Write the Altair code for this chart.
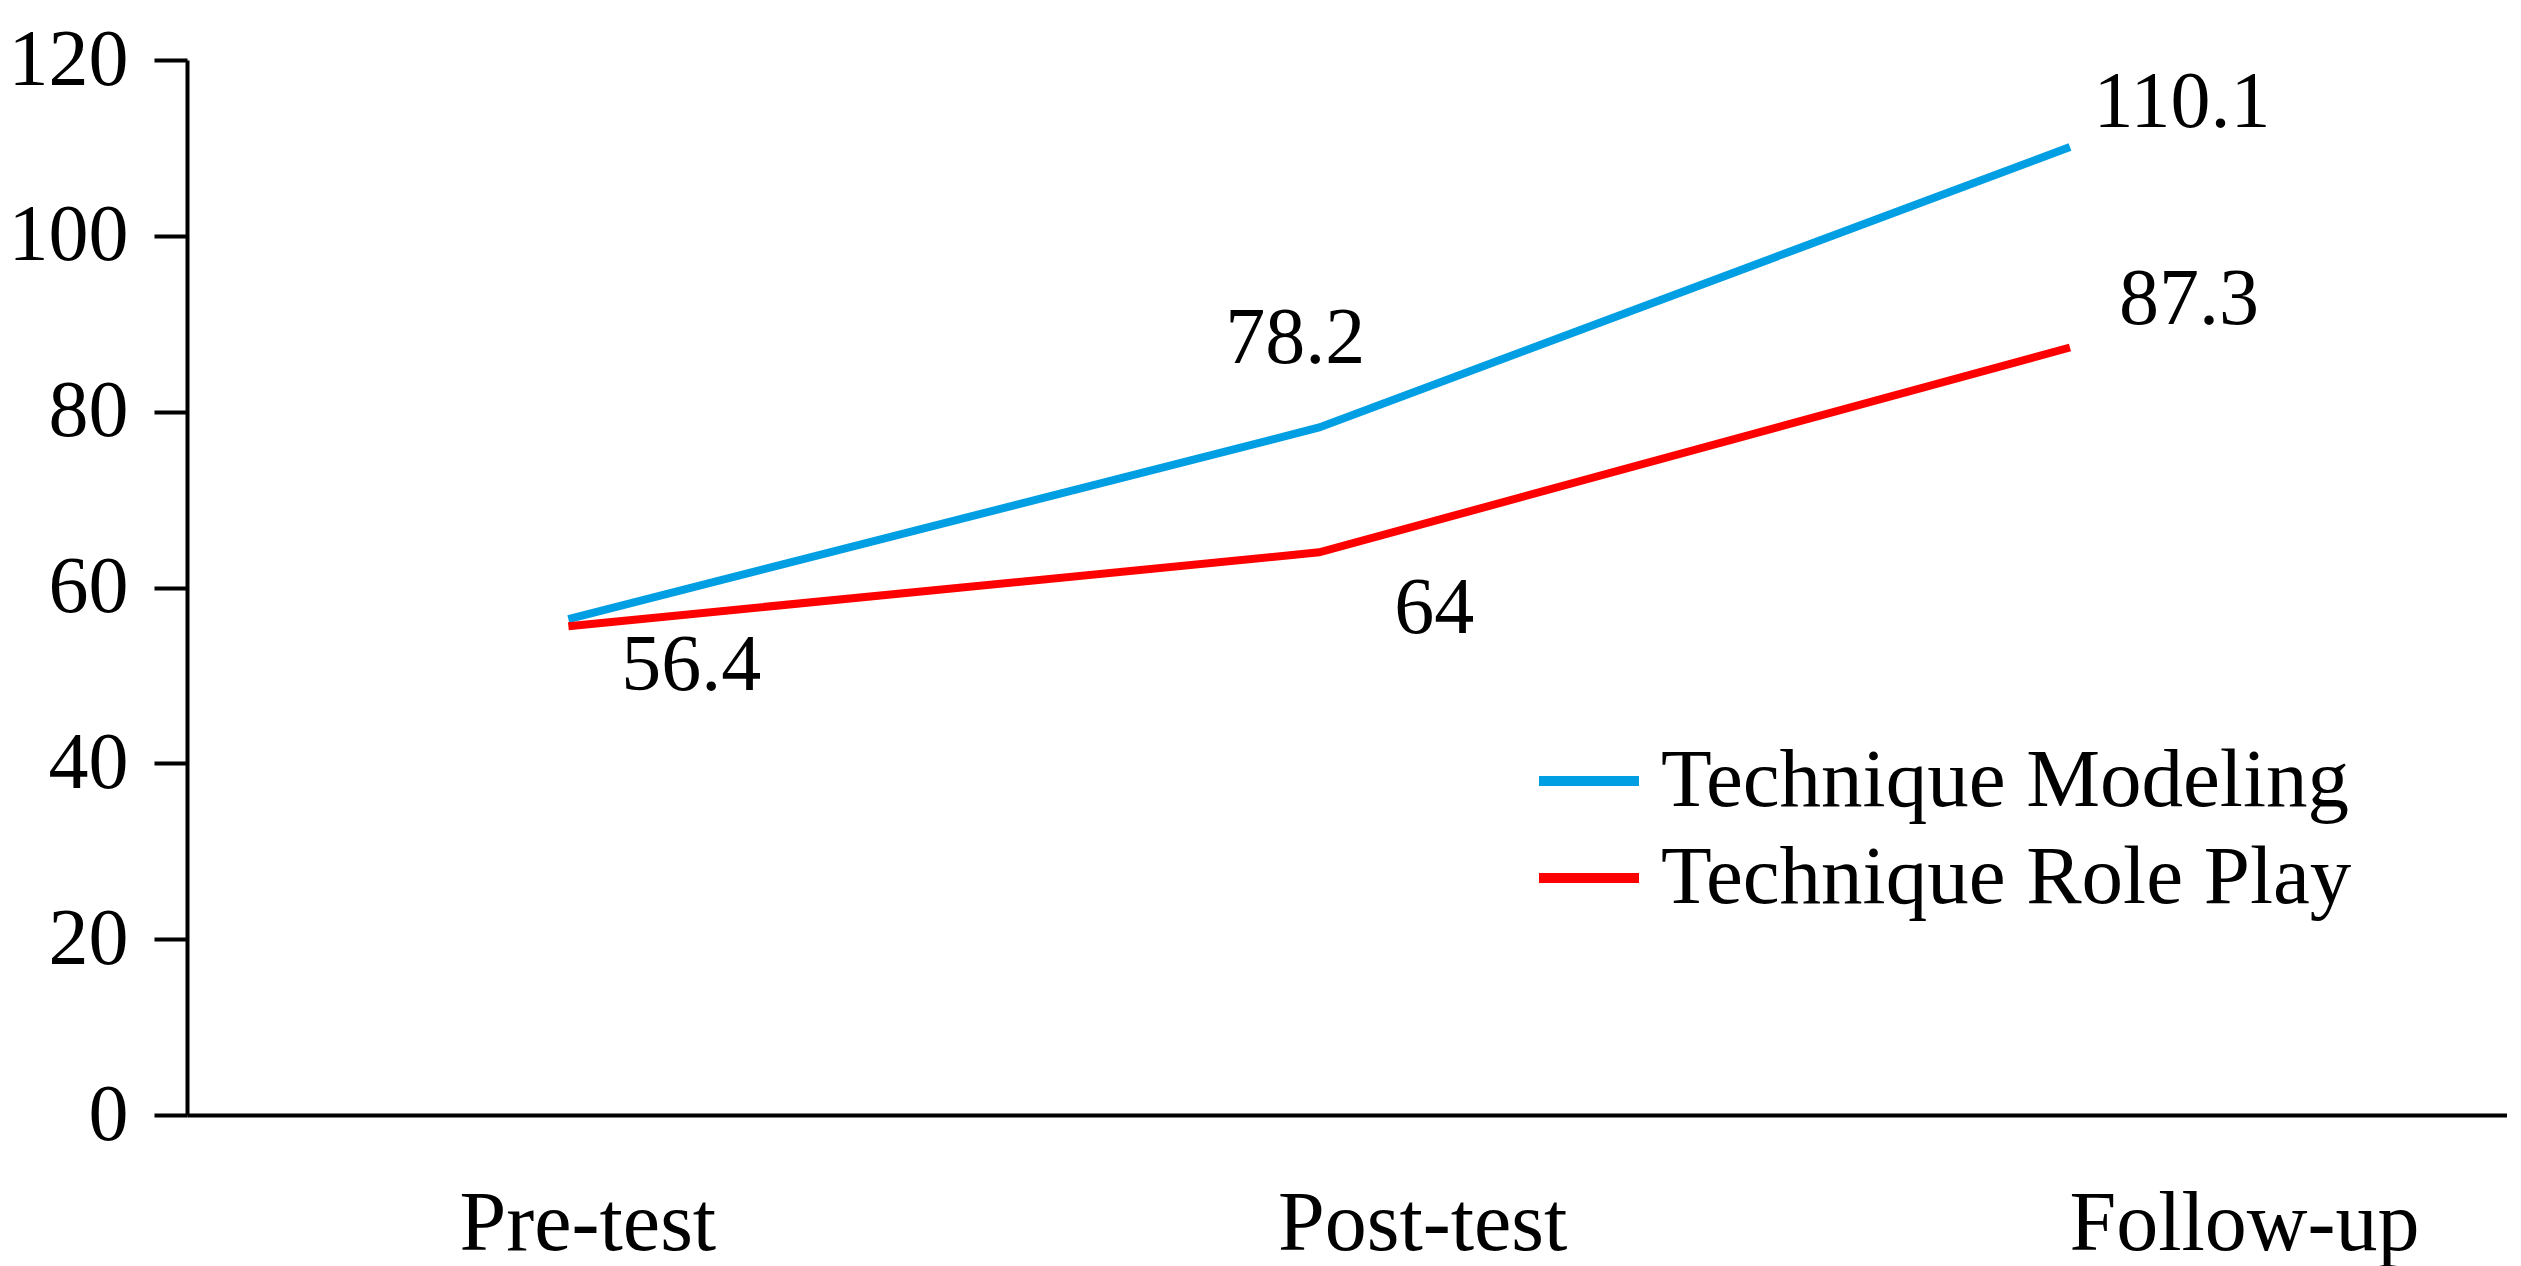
import altair as alt
import pandas as pd

categories = ["Pre-test", "Post-test", "Follow-up"]
series_names = ["Technique Modeling", "Technique Role Play"]
modeling = [56.4, 78.2, 110.1]
role_play = [55.6, 64.0, 87.3]
# which points carry a value label
modeling_labeled = [True, True, True]
role_play_labeled = [False, True, True]
y_ticks = [0, 20, 40, 60, 80, 100, 120]
colors = ["#009FE3", "#FF0000"]

rows = []
for s, vals, flags in [(series_names[0], modeling, modeling_labeled),
                       (series_names[1], role_play, role_play_labeled)]:
    for c, v, f in zip(categories, vals, flags):
        rows.append({"phase": c, "series": s, "value": v, "labeled": f})
df = pd.DataFrame(rows)

FONT = "Liberation Serif"

x_enc = alt.X("phase:N", sort=categories,
              scale=alt.Scale(type="point", padding=0.545, align=0.466),
              axis=alt.Axis(title=None, ticks=False, domainWidth=4, domainColor="black",
                            labelFont=FONT, labelFontSize=84, labelColor="black",
                            labelPadding=68, labelAngle=0, labelLimit=1000,
                            labelOffset={"condition": [
                                {"test": "datum.value === 'Pre-test'", "value": 19},
                                {"test": "datum.value === 'Follow-up'", "value": 174}],
                                "value": 103}))
y_enc = alt.Y("value:Q", scale=alt.Scale(domain=[0, 120], nice=False),
              axis=alt.Axis(title=None, values=y_ticks, grid=False, domainWidth=4,
                            domainColor="black", tickColor="black", tickWidth=4,
                            tickSize=33, labelFont=FONT, labelFontSize=80,
                            labelColor="black", labelPadding=26))

lines = alt.Chart(df).mark_line(strokeWidth=8).encode(
    x=x_enc, y=y_enc,
    color=alt.Color("series:N", sort=series_names,
                    scale=alt.Scale(domain=series_names, range=colors),
                    legend=alt.Legend(title=None, orient="none", legendX=1347, legendY=666,
                                      symbolType="stroke", symbolSize=10000,
                                      symbolStrokeWidth=10, labelFont=FONT,
                                      labelFontSize=83, labelColor="black",
                                      labelOffset=17, rowPadding=-15, labelLimit=1000)),
)

offsets = {
    (series_names[0], "Pre-test"): (123, 47),
    (series_names[0], "Post-test"): (-24, -88),
    (series_names[0], "Follow-up"): (112, -44),
    (series_names[1], "Post-test"): (115, 57),
    (series_names[1], "Follow-up"): (119, -47),
}

layers = [lines]
for (s, c), (dx, dy) in offsets.items():
    t = alt.Chart(df).transform_filter(
        (alt.datum.series == s) & (alt.datum.phase == c) & alt.datum.labeled
    ).mark_text(font=FONT, fontSize=80, color="black", dx=dx, dy=dy,
                align="center", baseline="middle").encode(
        x=alt.X("phase:N", sort=categories), y="value:Q",
        text=alt.Text("value:Q", format=".1~f"))
    layers.append(t)

chart = alt.layer(*layers).properties(
    width=2320, height=1055,
    padding={"top": 12, "left": 0, "right": 0, "bottom": 0}
).configure(background="white").configure_view(stroke=None)

chart.save("out.html", embed_options={"renderer": "svg", "actions": False})
